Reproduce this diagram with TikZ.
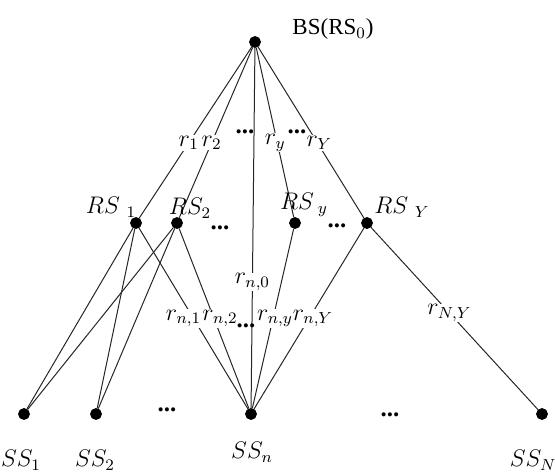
\documentclass[tikz,border=0pt]{standalone}
\usepackage{fontspec}
\setmainfont{Liberation Serif}
\usepackage{tikz}
\usetikzlibrary{positioning}
\tikzset{
  station/.style={circle,fill=black,draw=black,minimum size=5.5pt,inner sep=0pt},
  link/.style={line width=0.5pt,draw=black!85},
  rate/.style={fill=white,inner sep=0.4pt,font=\fontsize{11.5}{13}\selectfont},
  tag/.style={inner sep=0pt,font=\fontsize{11.5}{13}\selectfont},
  gap/.style={inner sep=0pt,font=\fontsize{12.5}{14}\selectfont\bfseries}
}

\begin{document}
\begin{tikzpicture}[x=0.5pt,y=-0.5pt]
  \useasboundingbox (0,0) rectangle (555,471);
  % stations
  \node[station] (bs) at (255,42) {};
  \node[station] (rs1) at (136,223) {};
  \node[station] (rs2) at (177,223) {};
  \node[station] (rsy) at (295,223) {};
  \node[station] (rsY) at (367,223) {};
  \node[station] (ss1) at (24,414) {};
  \node[station] (ss2) at (96,414) {};
  \node[station] (ssn) at (251,414) {};
  \node[station] (ssN) at (542,414) {};
  % links
  \draw[link] (rs1) -- (ss1);
  \draw[link] (rs1) -- (ss2);
  \draw[link] (rs2) -- (ss1);
  \draw[link] (rs2) -- (ss2);
  \draw[link] (bs) -- node[rate,pos=0.56] {$r_1$} (rs1);
  \draw[link] (bs) -- node[rate,pos=0.56] {$r_2$} (rs2);
  \draw[link] (bs) -- node[rate,pos=0.56,xshift=-1pt] {$r_y$} (rsy);
  \draw[link] (bs) -- node[rate,pos=0.56,xshift=1pt] {$r_Y$} (rsY);
  \draw[link] (bs) -- node[rate,pos=0.65] {$r_{n,0}$} (ssn);
  \draw[link] (rs1) -- node[rate,pos=0.5,xshift=-5pt] {$r_{n,1}$} (ssn);
  \draw[link] (rs2) -- node[rate,pos=0.5,xshift=3pt] {$r_{n,2}$} (ssn);
  \draw[link] (rsy) -- node[rate,pos=0.5,xshift=1pt] {$r_{n,y}$} (ssn);
  \draw[link] (rsY) -- node[rate,pos=0.5,xshift=2pt] {$r_{n,Y}$} (ssn);
  \draw[link] (rsY) -- node[rate,pos=0.47] {$r_{N,Y}$} (ssN);
  % station names
  \node[tag] (bsname) at (333,29) {\rmfamily BS(RS$_0$)};
  \node[tag] (rs1name) at (111,207) {$RS\;{}_1$};
  \node[tag] (rs2name) at (190,208) {$RS_2$};
  \node[tag] (rsyname) at (304,205) {$RS\,{}_y$};
  \node[tag] (rsYname) at (402,207) {$RS\;{}_Y$};
  \node[tag] (ss1name) at (21,460) {$SS_1$};
  \node[tag] (ss2name) at (95,460) {$SS_2$};
  \node[tag] (ssnname) at (252,452) {$SS_n$};
  \node[tag] (ssNname) at (533,460) {$SS_N$};
  % ellipses
  \node[gap] (dtop1) at (245,132) {...};
  \node[gap] (dtop2) at (297,132) {...};
  \node[gap] (drs1) at (220,228) {...};
  \node[gap] (drs2) at (337,226) {...};
  \node[gap] (dmid) at (246,326) {...};
  \node[gap] (dss1) at (167,410) {...};
  \node[gap] (dss2) at (390,415) {...};
\end{tikzpicture}
\end{document}
